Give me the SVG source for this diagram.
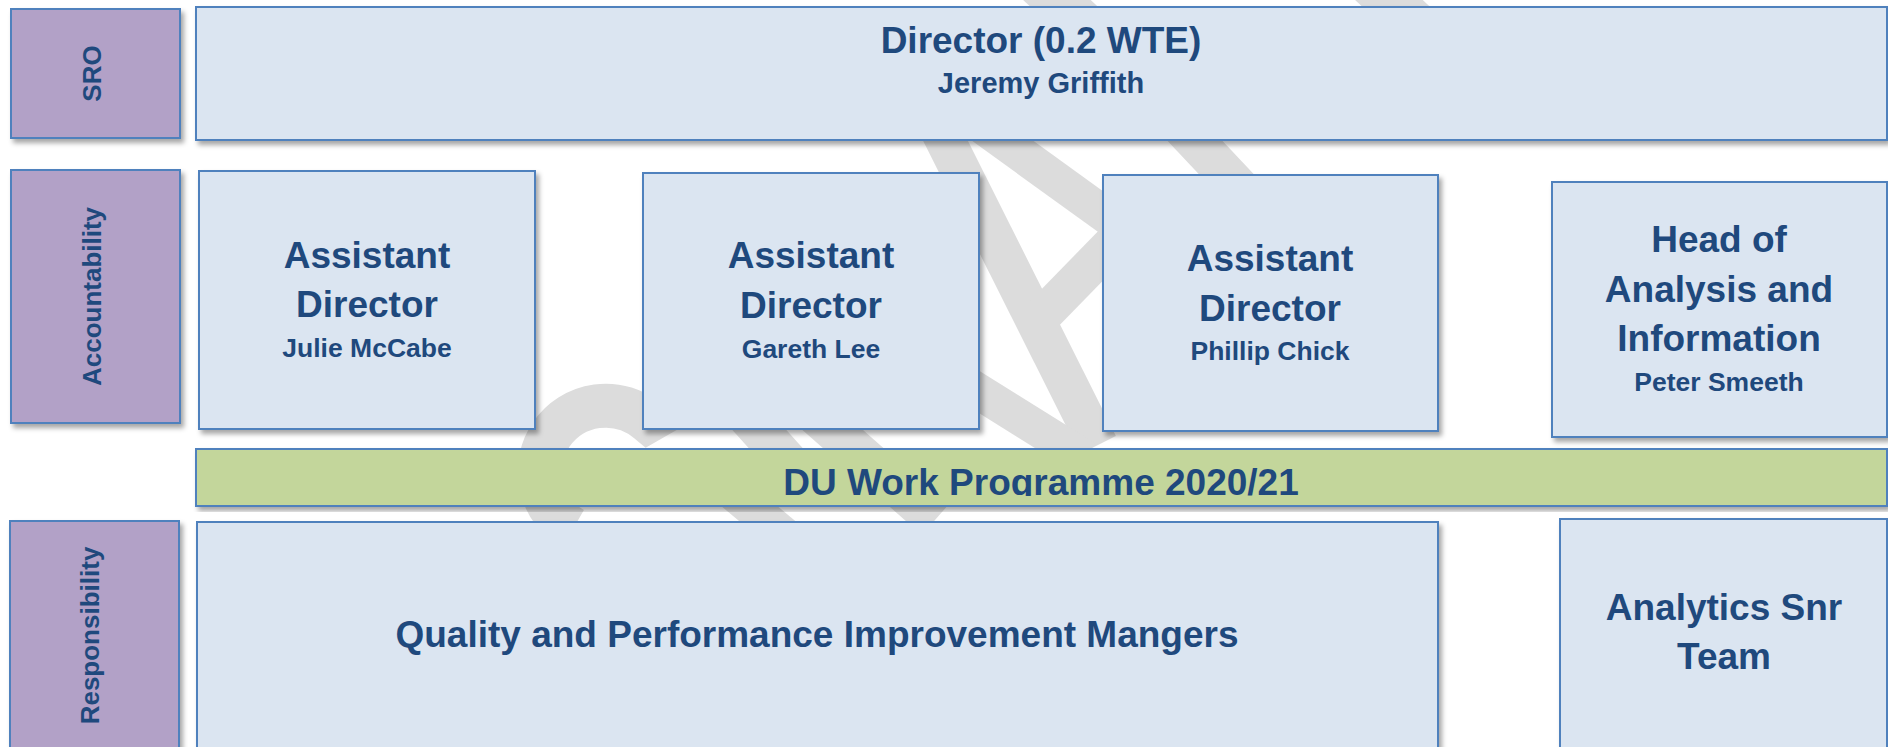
<svg xmlns="http://www.w3.org/2000/svg" width="1888" height="747" viewBox="0 0 1888 747">
<style>
.lab{fill:#B2A1C7;stroke:#4F81BD;stroke-width:2;filter:url(#sh)}
.box{fill:#DBE5F1;stroke:#4F81BD;stroke-width:2;filter:url(#sh)}
.bar{fill:#C3D69B;stroke:#4F81BD;stroke-width:2;filter:url(#sh)}
text{font-family:"Liberation Sans",Arial,sans-serif;font-weight:bold;fill:#1F497D;text-anchor:middle}
.t{font-size:37px}
.s{font-size:26.5px}
.v{font-size:26px}
.wm{fill:none;stroke:#DCDCDC;stroke-linecap:butt}
</style>
<defs>
<filter id="sh" x="-5%" y="-5%" width="110%" height="115%">
<feDropShadow dx="3" dy="4" stdDeviation="2.5" flood-color="#000" flood-opacity="0.35"/>
</filter>
<clipPath id="barclip"><rect x="196" y="449" width="1691" height="47"/></clipPath>
</defs>
<rect width="1888" height="747" fill="#FFFFFF"/>
<g id="watermark">
<path class="wm" stroke-width="44" d="M573 529 A66 66 0 1 1 648 421 L720 380"/>
<line class="wm" stroke-width="40" x1="905" y1="60" x2="1098" y2="445"/>
<line class="wm" stroke-width="36" x1="960" y1="110" x2="1115" y2="222"/>
<line class="wm" stroke-width="38" x1="1040" y1="318" x2="1118" y2="238"/>
<line class="wm" stroke-width="36" x1="960" y1="380" x2="1085" y2="458"/>
<line class="wm" stroke-width="40" x1="1100" y1="40" x2="1262" y2="212"/>
<line class="wm" stroke-width="46" x1="1030" y1="-25" x2="1100" y2="40"/>
<line class="wm" stroke-width="46" x1="1362" y1="-25" x2="1432" y2="40"/>
<line class="wm" stroke-width="40" x1="660" y1="320" x2="800" y2="475"/>
<line class="wm" stroke-width="40" x1="760" y1="366" x2="935" y2="520"/>
<line class="wm" stroke-width="36" x1="730" y1="490" x2="790" y2="540"/>
</g>
<g id="connectors"></g>
<g id="sro-label"><rect class="lab" x="11" y="9" width="169" height="129"/><text class="v" transform="translate(101,73.5) rotate(-90)">SRO</text></g>
<g id="director"><rect class="box" x="196" y="7" width="1691" height="133"/><text class="t" x="1041" y="53">Director (0.2 WTE)</text><text x="1041" y="93" style="font-size:29px">Jeremy Griffith</text></g>
<g id="accountability-label"><rect class="lab" x="11" y="170" width="169" height="253"/><text class="v" transform="translate(101,296.5) rotate(-90)">Accountability</text></g>
<g id="ad-mccabe"><rect class="box" x="199" y="171" width="336" height="258"/><text class="t" x="367" y="268">Assistant</text><text class="t" x="367" y="317">Director</text><text class="s" x="367" y="357">Julie McCabe</text></g>
<g id="ad-lee"><rect class="box" x="643" y="173" width="336" height="256"/><text class="t" x="811" y="268">Assistant</text><text class="t" x="811" y="318">Director</text><text class="s" x="811" y="358">Gareth Lee</text></g>
<g id="ad-chick"><rect class="box" x="1103" y="175" width="335" height="256"/><text class="t" x="1270" y="271">Assistant</text><text class="t" x="1270" y="321">Director</text><text class="s" x="1270" y="360">Phillip Chick</text></g>
<g id="head-analysis"><rect class="box" x="1552" y="182" width="335" height="255"/><text class="t" x="1719" y="252">Head of</text><text class="t" x="1719" y="302">Analysis and</text><text class="t" x="1719" y="351">Information</text><text class="s" x="1719" y="391">Peter Smeeth</text></g>
<g id="work-programme"><rect class="bar" x="196" y="449" width="1691" height="57"/><text class="t" x="1041" y="495" clip-path="url(#barclip)">DU Work Programme 2020/21</text></g>
<g id="responsibility-label"><rect class="lab" x="10" y="521" width="169" height="240"/><text class="v" transform="translate(99,635.5) rotate(-90)">Responsibility</text></g>
<g id="qpim"><rect class="box" x="197" y="522" width="1241" height="240"/><text class="t" x="817" y="647">Quality and Performance Improvement Mangers</text></g>
<g id="analytics"><rect class="box" x="1560" y="519" width="327" height="240"/><text class="t" x="1724" y="620">Analytics Snr</text><text class="t" x="1724" y="669">Team</text></g>
</svg>
